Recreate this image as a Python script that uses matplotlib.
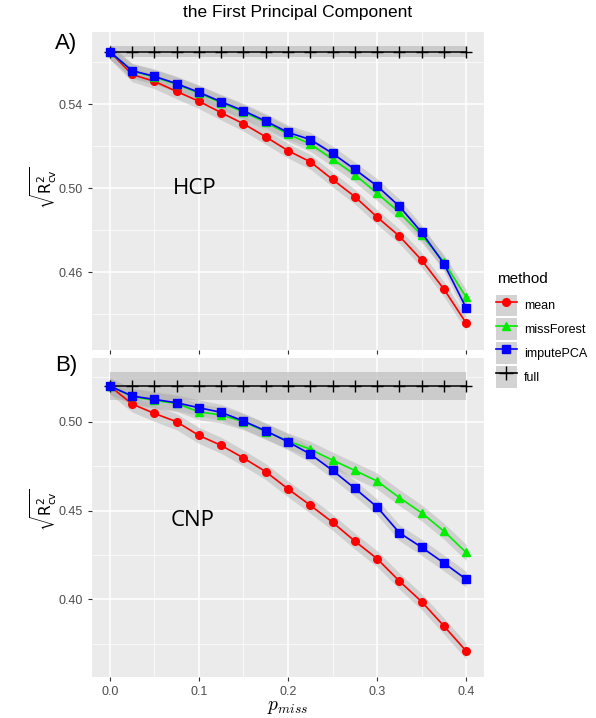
import numpy as np
import matplotlib
matplotlib.use("Agg")
import matplotlib.pyplot as plt
from matplotlib.lines import Line2D
from matplotlib.patches import Patch
from matplotlib.ticker import FixedLocator

plt.rcParams['mathtext.fontset'] = 'cm'
plt.rcParams['font.family'] = ['Liberation Sans', 'DejaVu Sans']

# proportion of missing values
p_miss = [0.0, 0.025, 0.05, 0.075, 0.1, 0.125, 0.15, 0.175, 0.2,
          0.225, 0.25, 0.275, 0.3, 0.325, 0.35, 0.375, 0.4]

methods = ['mean', 'missForest', 'imputePCA', 'full']

# panel A (HCP)
hcp_mean = [0.5649, 0.5541, 0.5508, 0.5460, 0.5413, 0.5359, 0.5306, 0.5244, 0.5178,
            0.5125, 0.5041, 0.4959, 0.4862, 0.4771, 0.4657, 0.4519, 0.4357]
hcp_missforest = [0.5649, 0.5557, 0.5529, 0.5494, 0.5452, 0.5406, 0.5362, 0.5313, 0.5257,
                  0.5210, 0.5138, 0.5064, 0.4975, 0.4884, 0.4776, 0.4648, 0.4481]
hcp_imputepca = [0.5649, 0.5559, 0.5532, 0.5497, 0.5456, 0.5411, 0.5368, 0.5319, 0.5265,
                 0.5231, 0.5165, 0.5089, 0.5010, 0.4913, 0.4789, 0.4640, 0.4429]
hcp_full = 0.5649
hcp_yticks = [0.46, 0.50, 0.54]

# panel B (CNP)
cnp_mean = [0.5201, 0.5100, 0.5047, 0.5000, 0.4923, 0.4867, 0.4796, 0.4719, 0.4622,
            0.4530, 0.4434, 0.4328, 0.4229, 0.4103, 0.3987, 0.3850, 0.3709]
cnp_missforest = [0.5201, 0.5143, 0.5120, 0.5103, 0.5056, 0.5038, 0.5000, 0.4945, 0.4892,
                  0.4845, 0.4784, 0.4726, 0.4666, 0.4573, 0.4487, 0.4384, 0.4264]
cnp_imputepca = [0.5201, 0.5145, 0.5126, 0.5107, 0.5079, 0.5053, 0.5004, 0.4949, 0.4887,
                 0.4818, 0.4726, 0.4625, 0.4520, 0.4375, 0.4293, 0.4205, 0.4113]
cnp_full = 0.5201
cnp_yticks = [0.40, 0.45, 0.50]

xticks = [0.0, 0.1, 0.2, 0.3, 0.4]

colors = {'mean': '#FF0000', 'missForest': '#00EE00', 'imputePCA': '#0000FF', 'full': 'black'}
markers = {'mean': 'o', 'missForest': '^', 'imputePCA': 's', 'full': '+'}

fig = plt.figure(figsize=(5.96, 7.18), dpi=100)
axA = fig.add_axes([92/596, 1-350/718, 392/596, 318/718])
axB = fig.add_axes([92/596, 1-677/718, 392/596, 319/718])

panels = [
    (axA, {'mean': hcp_mean, 'missForest': hcp_missforest, 'imputePCA': hcp_imputepca},
     hcp_full, 0.0035, 0.0025, (0.4229, 0.5743), hcp_yticks),
    (axB, {'mean': cnp_mean, 'missForest': cnp_missforest, 'imputePCA': cnp_imputepca},
     cnp_full, 0.0045, 0.0081, (0.3563, 0.5359), cnp_yticks),
]

x = np.array(p_miss)
for ax, series, full, se, full_se, ylim, yticks in panels:
    ax.set_facecolor('#EBEBEB')
    for s in ax.spines.values():
        s.set_visible(False)
    ax.set_xlim(-0.02, 0.42)
    step = yticks[1] - yticks[0]
    ax.xaxis.set_major_locator(FixedLocator(xticks))
    ax.xaxis.set_minor_locator(FixedLocator([0.05, 0.15, 0.25, 0.35]))
    ax.yaxis.set_major_locator(FixedLocator(yticks))
    ax.yaxis.set_minor_locator(FixedLocator(np.arange(yticks[0] - 1.5 * step, yticks[-1] + 2 * step, step)))
    ax.set_yticklabels(['%.2f' % v for v in yticks])
    ax.grid(which='major', color='white', lw=1.1)
    ax.grid(which='minor', color='white', lw=0.5)
    ax.set_axisbelow(True)
    ax.tick_params(which='major', length=3, color='#333333', labelcolor='#4D4D4D', labelsize=9)
    ax.tick_params(which='minor', length=0)

    fy = np.full(len(x), full)
    ax.fill_between(x, fy - full_se, fy + full_se, color='#BEBEBE', alpha=0.7, lw=0, zorder=2)
    for m in ['mean', 'missForest', 'imputePCA']:
        y = np.array(series[m])
        ax.fill_between(x, y - se, y + se, color='#B0B0B0', alpha=0.45, lw=0, zorder=2)
    ax.plot(x, fy, color='black', marker='+', ms=9, mew=1.0, lw=1.1, zorder=3)
    for m in ['mean', 'missForest', 'imputePCA']:
        ax.plot(x, series[m], color=colors[m], marker=markers[m],
                ms=5.5 if m != 'missForest' else 6, lw=1.2, zorder=4)
    ax.set_ylim(*ylim)

axA.tick_params(axis='x', labelbottom=False)
axB.set_xticklabels(['%.1f' % v for v in xticks])

fig.text(0.5, 1-13/718, 'the First Principal Component', ha='center', va='center', fontsize=12.5)
fig.text(55/596, 1-43/718, 'A)', ha='left', va='center', fontsize=16)
fig.text(55/596, 1-366/718, 'B)', ha='left', va='center', fontsize=16)
fig.text(195/596, 1-188/718, 'HCP', ha='center', va='center', fontsize=16, family='Open Sans')
fig.text(193/596, 1-520/718, 'CNP', ha='center', va='center', fontsize=16, family='Open Sans')
ylab = r'$\sqrt{\mathrm{R}^2_{\mathrm{cv}}}$'
fig.text(44/596, 1-188/718, ylab, rotation=90, ha='center', va='center',
         fontsize=11, math_fontfamily='dejavusans')
fig.text(44/596, 1-510/718, ylab, rotation=90, ha='center', va='center',
         fontsize=11, math_fontfamily='dejavusans')
fig.text(288/596, 1-707/718, r'$p_{miss}$', ha='center', va='center', fontsize=14)

# legend title drawn on its own so the key rows can sit where ggplot puts them
fig.text(497/596, 1-279/718, 'method', ha='left', va='center', fontsize=11)
handles = []
for m in methods:
    bg = Patch(facecolor='#D3D3D3', edgecolor='none')
    ln = Line2D([], [], color=colors[m], marker=markers[m], ms=5.5 if m != 'full' else 10, lw=1.2)
    handles.append((bg, ln))
fig.legend(handles, methods, loc='upper left',
           bbox_to_anchor=(493/596, 1-292/718), frameon=False, fontsize=9,
           handlelength=1.75, handleheight=2.3, labelspacing=0.16,
           handletextpad=0.55, borderaxespad=0.0, borderpad=0.2)

fig.savefig('out.png', dpi=100)
